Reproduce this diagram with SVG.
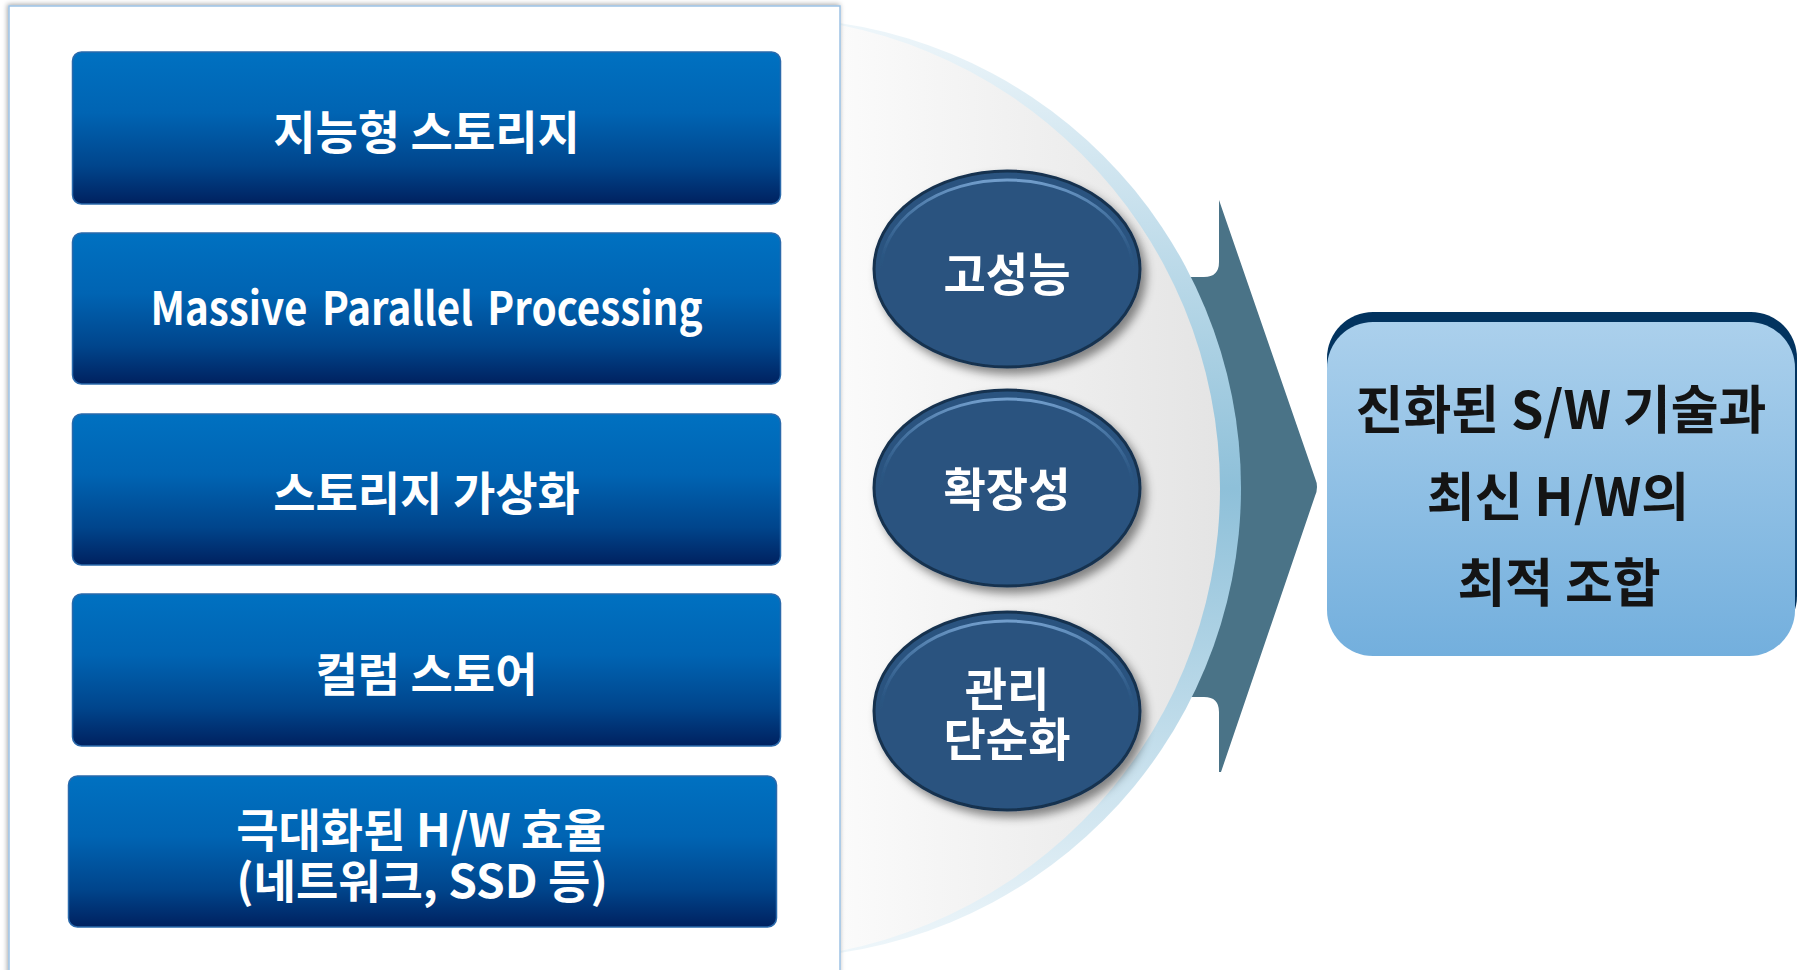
<svg xmlns="http://www.w3.org/2000/svg" width="1805" height="970" viewBox="0 0 1805 970">
<defs>
<style>
.box{stroke:#2a69ab;stroke-width:1.5}
.lbl{font-family:"Noto Sans CJK KR","Noto Sans",sans-serif;font-weight:700;fill:#fff;text-anchor:middle;font-size:46px}
.olbl{font-family:"Noto Sans CJK KR","Noto Sans",sans-serif;font-weight:700;fill:#fff;text-anchor:middle;font-size:46px}
.rlbl{font-family:"Noto Sans CJK KR","Noto Sans",sans-serif;font-weight:700;fill:#141414;text-anchor:middle;font-size:52px}
.oval{fill:#29537f;stroke:#17324f;stroke-width:3}
.ovhl{fill:none;stroke:url(#hlg);stroke-width:3}
</style>
<linearGradient id="boxg" x1="0" y1="0" x2="0" y2="1">
<stop offset="0" stop-color="#0071c1"/>
<stop offset="0.4" stop-color="#0064b3"/>
<stop offset="0.75" stop-color="#00458c"/>
<stop offset="1" stop-color="#00215f"/>
</linearGradient>
<linearGradient id="hlg" x1="0" y1="0" x2="0" y2="1">
<stop offset="0" stop-color="#7aa6d4" stop-opacity="0.9"/>
<stop offset="0.3" stop-color="#4f7fb0" stop-opacity="0.4"/>
<stop offset="0.5" stop-color="#29537f" stop-opacity="0"/>
</linearGradient>
<linearGradient id="cres" x1="0" y1="23" x2="0" y2="953" gradientUnits="userSpaceOnUse">
<stop offset="0" stop-color="#eef6fa"/>
<stop offset="0.5" stop-color="#8ec0d9"/>
<stop offset="1" stop-color="#eef6fa"/>
</linearGradient>
<linearGradient id="disc" x1="840" y1="0" x2="1220" y2="0" gradientUnits="userSpaceOnUse">
<stop offset="0" stop-color="#fbfbfb"/>
<stop offset="1" stop-color="#e4e4e4"/>
</linearGradient>
<linearGradient id="rbox" x1="0" y1="0" x2="0" y2="1">
<stop offset="0" stop-color="#abd0ec"/>
<stop offset="1" stop-color="#73afdd"/>
</linearGradient>
<filter id="osh" x="-20%" y="-20%" width="150%" height="150%">
<feDropShadow dx="5" dy="6" stdDeviation="5" flood-color="#000" flood-opacity="0.45"/>
</filter>
<filter id="psh" x="-5%" y="-5%" width="110%" height="110%">
<feDropShadow dx="-1" dy="-1" stdDeviation="2.5" flood-color="#000" flood-opacity="0.35"/>
</filter>
</defs>

<g id="arrow">
<path d="M1219,200 L1315,478 Q1319,487 1315,496 L1221,772 L1219,772 L1219,712 Q1219,697 1204,697 L1100,697 L1100,277 L1204,277 Q1219,277 1219,262 Z" fill="#4a7387"/>
</g>

<g id="arc">
<circle cx="771" cy="488" r="470" fill="url(#cres)"/>
<circle cx="748" cy="488" r="472" fill="url(#disc)"/>
</g>

<g id="panel">
<rect x="9" y="6" width="831" height="990" fill="#fff" stroke="#9cc2e5" stroke-width="1.5" filter="url(#psh)"/>
</g>

<g id="box1">
<rect class="box" x="72.5" y="52" width="708" height="152" rx="9" fill="url(#boxg)"/>
<text class="lbl" x="426.5" y="149">지능형 스토리지</text>
</g>
<g id="box2">
<rect class="box" x="72.5" y="233" width="708" height="151" rx="9" fill="url(#boxg)"/>
<text class="lbl" x="426.5" y="325" font-size="44" word-spacing="6" textLength="552" lengthAdjust="spacingAndGlyphs">Massive Parallel Processing</text>
</g>
<g id="box3">
<rect class="box" x="72.5" y="414" width="708" height="151" rx="9" fill="url(#boxg)"/>
<text class="lbl" x="426.5" y="510">스토리지 가상화</text>
</g>
<g id="box4">
<rect class="box" x="72.5" y="594" width="708" height="152" rx="9" fill="url(#boxg)"/>
<text class="lbl" x="426.5" y="691">컬럼 스토어</text>
</g>
<g id="box5">
<rect class="box" x="68.5" y="776" width="708" height="151" rx="9" fill="url(#boxg)"/>
<text class="lbl" x="421" y="847">극대화된 H/W 효율</text>
<text class="lbl" x="422" y="898">(네트워크, SSD 등)</text>
</g>

<g id="oval1" filter="url(#osh)">
<ellipse class="oval" cx="1007" cy="269" rx="133" ry="98"/>
<ellipse class="ovhl" cx="1007" cy="271" rx="126" ry="91"/>
<text class="olbl" x="1007" y="291">고성능</text>
</g>
<g id="oval2" filter="url(#osh)">
<ellipse class="oval" cx="1007" cy="488" rx="133" ry="98"/>
<ellipse class="ovhl" cx="1007" cy="490" rx="126" ry="91"/>
<text class="olbl" x="1007" y="506">확장성</text>
</g>
<g id="oval3" filter="url(#osh)">
<ellipse class="oval" cx="1007" cy="711" rx="133" ry="99"/>
<ellipse class="ovhl" cx="1007" cy="713" rx="126" ry="92"/>
<text class="olbl" x="1007" y="706">관리</text>
<text class="olbl" x="1007" y="756">단순화</text>
</g>

<g id="result">
<rect x="1327" y="312" width="470" height="330" rx="46" fill="#02335f"/>
<rect x="1327" y="322" width="468" height="334" rx="46" fill="url(#rbox)"/>
<text class="rlbl" x="1561" y="429">진화된 S/W 기술과</text>
<text class="rlbl" x="1558" y="516">최신 H/W의</text>
<text class="rlbl" x="1559" y="602">최적 조합</text>
</g>
</svg>
